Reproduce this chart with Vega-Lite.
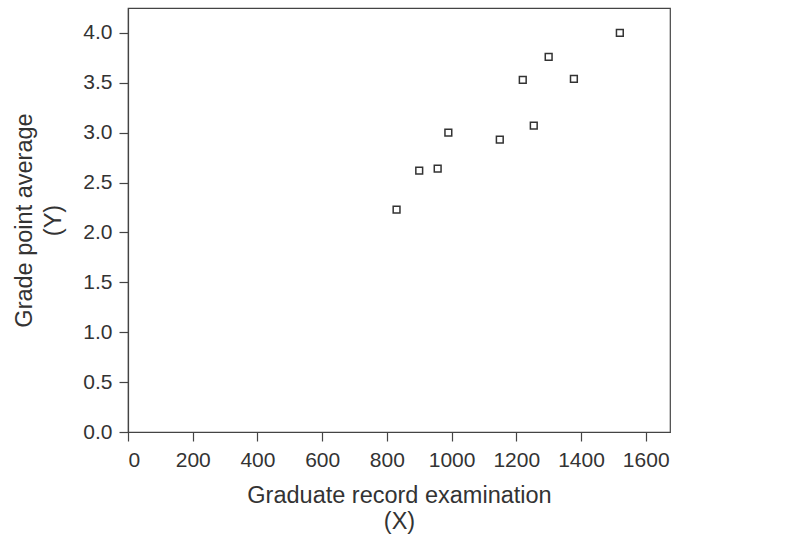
{
  "$schema": "https://vega.github.io/schema/vega-lite/v6.json",
  "autosize": "none",
  "width": 542,
  "height": 424,
  "padding": {"left": 128, "top": 8, "right": 129, "bottom": 104},
  "background": "white",
  "config": {
    "font": "Liberation Sans",
    "view": {"stroke": "#444", "strokeWidth": 1.2}
  },
  "data": {
    "values": [
      {"gre": 830, "gpa": 2.23},
      {"gre": 900, "gpa": 2.62},
      {"gre": 957, "gpa": 2.64},
      {"gre": 990, "gpa": 3.0},
      {"gre": 1149, "gpa": 2.93},
      {"gre": 1220, "gpa": 3.53},
      {"gre": 1254, "gpa": 3.07},
      {"gre": 1300, "gpa": 3.76},
      {"gre": 1378, "gpa": 3.54},
      {"gre": 1520, "gpa": 4.0}
    ]
  },
  "mark": {"type": "point", "shape": "square", "size": 46, "filled": false, "stroke": "#333", "strokeWidth": 1.5, "opacity": 1},
  "encoding": {
    "x": {
      "field": "gre",
      "type": "quantitative",
      "scale": {"domain": [0, 1675], "nice": false, "zero": false},
      "axis": {
        "values": [0, 200, 400, 600, 800, 1000, 1200, 1400, 1600],
        "format": "d",
        "grid": false,
        "domainColor": "#444",
        "tickColor": "#444",
        "labelColor": "#333",
        "titleColor": "#333",
        "labelFontSize": 21,
        "labelFont": "Liberation Sans",
        "titleFont": "Liberation Sans",
        "titleFontSize": 23.5,
        "titleFontWeight": "normal",
        "tickSize": 9,
        "domainWidth": 1.2,
        "tickWidth": 1.2,
        "title": ["Graduate record examination", "(X)"],
        "labelPadding": 8,
        "titlePadding": 13,
        "titleLineHeight": 26
      }
    },
    "y": {
      "field": "gpa",
      "type": "quantitative",
      "scale": {"domain": [0, 4.25], "nice": false, "zero": false},
      "axis": {
        "values": [0, 0.5, 1, 1.5, 2, 2.5, 3, 3.5, 4],
        "format": ".1f",
        "grid": false,
        "domainColor": "#444",
        "tickColor": "#444",
        "labelColor": "#333",
        "titleColor": "#333",
        "labelFontSize": 21,
        "labelFont": "Liberation Sans",
        "titleFont": "Liberation Sans",
        "titleFontSize": 23.5,
        "titleFontWeight": "normal",
        "tickSize": 9,
        "domainWidth": 1.2,
        "tickWidth": 1.2,
        "title": ["Grade point average", "(Y)"],
        "labelPadding": 7,
        "titlePadding": 17,
        "titleLineHeight": 29
      }
    }
  }
}
